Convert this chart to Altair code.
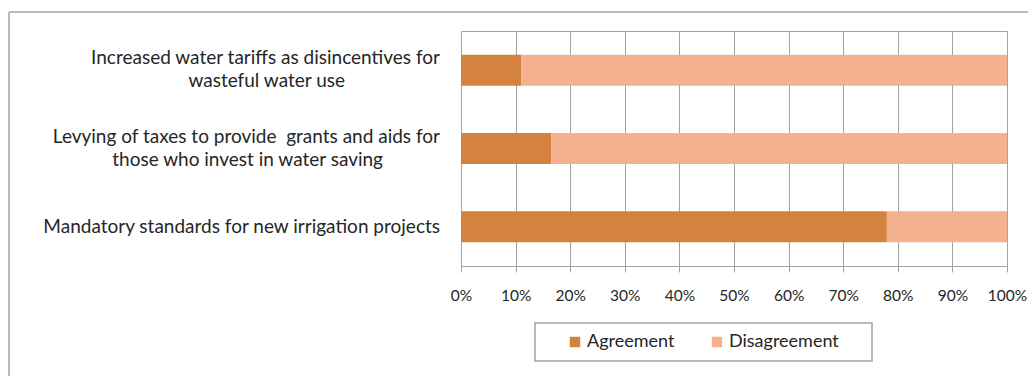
import altair as alt
import pandas as pd

# ---- data ----
label_line1 = [
    "Increased water tariffs as disincentives for",
    "Levying of taxes to provide\u00a0 grants and aids for",
    "Mandatory standards for new irrigation projects",
]
label_line2 = [
    "wasteful water use",
    "those who invest in water saving",
    "",
]
line2_pad = [10, 6, 0]  # en-space padding so second lines appear centred
agreement = [11, 16.5, 78]
disagreement = [89, 83.5, 22]
series = ["Agreement", "Disagreement"]
colors = ["#D4833F", "#F4B18F"]
x_ticks = [0, 10, 20, 30, 40, 50, 60, 70, 80, 90, 100]

FONT = "Lato"
GRID = "#a3a3a3"
TXT = "#262626"

cats = []
for l1, l2, p in zip(label_line1, label_line2, line2_pad):
    cats.append(l1 + ("|" + l2 + "\u2002" * p + "\u200b" if l2 else ""))

rows = []
for c, a, d in zip(cats, agreement, disagreement):
    rows.append({"cat": c, "series": series[0], "value": a, "ord": 0})
    rows.append({"cat": c, "series": series[1], "value": d, "ord": 1})
df = pd.DataFrame(rows)

labels_df = pd.DataFrame({"cat": cats, "two": [bool(l) for l in label_line2]})

y_enc = alt.Y(
    "cat:N",
    sort=cats,
    title=None,
    scale=alt.Scale(paddingInner=0, paddingOuter=0),
    axis=alt.Axis(
        labels=False,
        tickBand="extent",
        tickSize=6,
        tickColor=GRID,
        domainColor=GRID,
        grid=False,
    ),
)

bars = alt.Chart(df).mark_bar(size=31).encode(
    y=y_enc,
    x=alt.X(
        "value:Q",
        stack="zero",
        title=None,
        scale=alt.Scale(domain=[0, 100], nice=False),
        axis=alt.Axis(
            values=x_ticks,
            labelExpr="datum.value + '%'",
            labelFont=FONT,
            labelFontSize=15.5,
            labelColor=TXT,
            labelPadding=16,
            labelFlush=False,
            tickSize=6,
            tickColor=GRID,
            domainColor=GRID,
            gridColor=GRID,
            grid=True,
        ),
    ),
    color=alt.Color(
        "series:N",
        scale=alt.Scale(domain=series, range=colors),
        legend=alt.Legend(
            title=None,
            orient="none",
            direction="horizontal",
            legendX=105,
            legendY=302,
            symbolType="square",
            symbolSize=110,
            symbolStrokeWidth=0,
            labelFont=FONT,
            labelFontSize=18,
            labelColor=TXT,
            labelOffset=3,
            columnPadding=33,
            padding=0,
        ),
    ),
    order=alt.Order("ord:Q"),
)


def label_layer(two_lines, dy):
    return (
        alt.Chart(labels_df)
        .transform_filter(alt.datum.two == two_lines)
        .transform_calculate(lines="split(datum.cat, '|')")
        .mark_text(
            align="right",
            baseline="middle",
            font=FONT,
            fontSize=19,
            lineHeight=23,
            color=TXT,
            dy=dy,
        )
        .encode(
            y=alt.Y("cat:N", sort=cats, axis=None),
            x=alt.value(-21),
            text="lines:N",
        )
    )


labels_two = label_layer(True, -12)
labels_one = label_layer(False, 0)

# legend box and outer frame (decoration)
legend_box = alt.Chart(pd.DataFrame({"k": [0]})).mark_rect(
    fill="white", stroke=GRID, strokeWidth=1.5
).encode(
    x=alt.value(74), x2=alt.value(411), y=alt.value(292), y2=alt.value(330)
)
frame_left = alt.Chart(pd.DataFrame({"k": [0]})).mark_rule(
    color=GRID, strokeWidth=1.5
).encode(x=alt.value(-452), y=alt.value(-19), y2=alt.value(360))
frame_top = alt.Chart(pd.DataFrame({"k": [0]})).mark_rule(
    color=GRID, strokeWidth=1.5
).encode(x=alt.value(-452), x2=alt.value(600), y=alt.value(-19))

chart = alt.layer(
    legend_box, bars, labels_two, labels_one, frame_left, frame_top
).properties(
    width=546,
    height=235,
    autosize=alt.AutoSizeParams(type="none"),
    padding={"left": 461, "top": 31, "right": 21, "bottom": 110},
    background="white",
).configure_view(stroke=GRID, strokeWidth=1)

chart.save("out.html", embed_options={"renderer": "svg", "actions": False})
